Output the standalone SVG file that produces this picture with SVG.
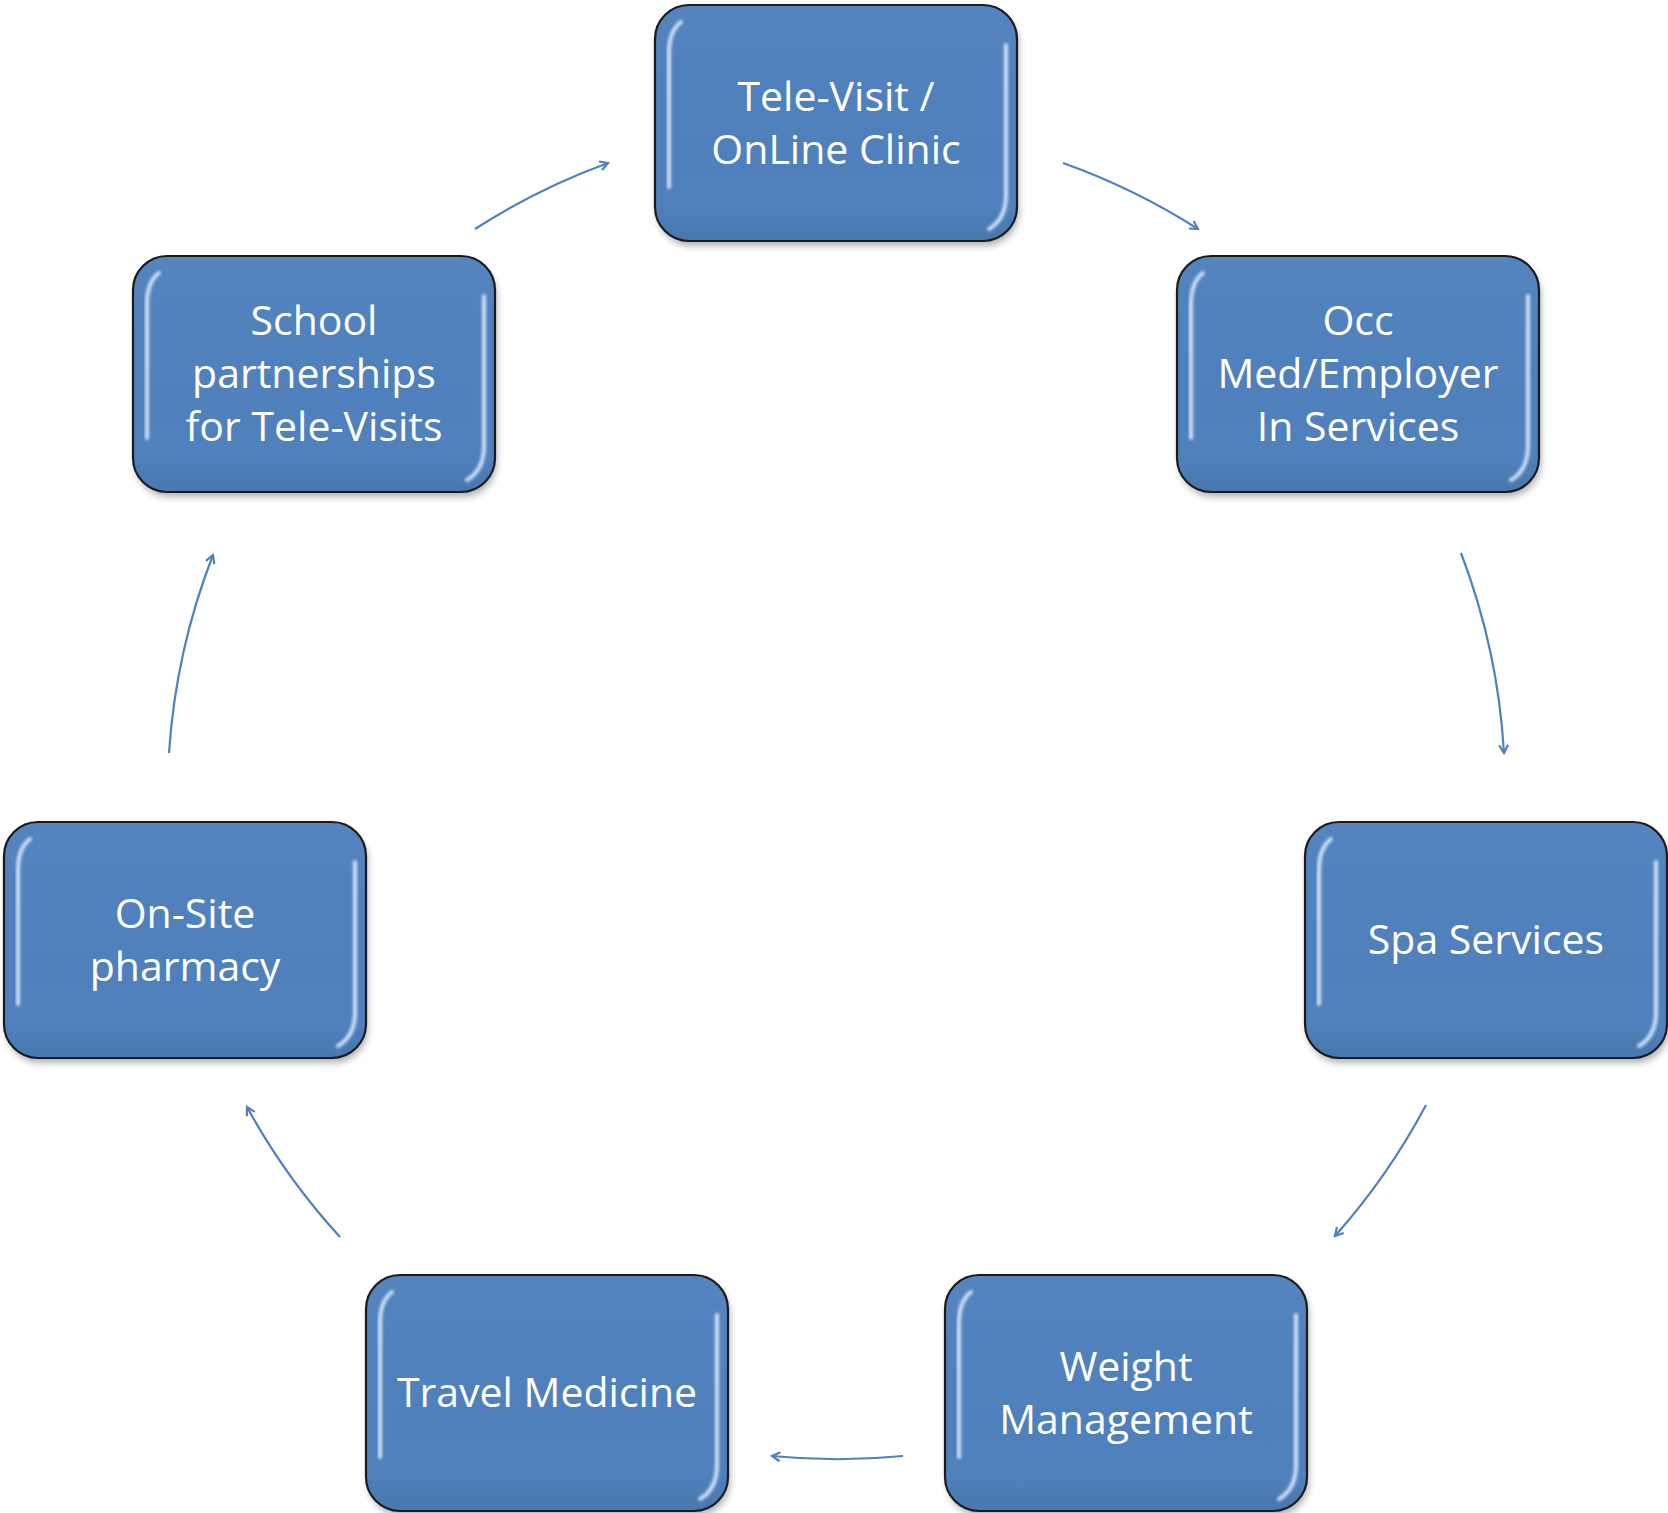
<svg xmlns="http://www.w3.org/2000/svg" width="1668" height="1513" viewBox="0 0 1668 1513">
<defs>
<style>
.box{fill:#4F81BD;stroke:#1b1b1b;stroke-width:2.2}
.shadow{fill:#000;opacity:0.3;filter:url(#blur4)}
.hl{fill:none;stroke:#e8f3ff;stroke-width:4;stroke-linecap:round;filter:url(#blur1);opacity:0.85}
.shade{fill:url(#shadeGrad)}
.lbl{font-family:"Open Sans","Liberation Sans",sans-serif;font-size:41px;fill:#ffffff;text-anchor:middle}
.conn{fill:none;stroke:#4F81BD;stroke-width:2.2;marker-end:url(#arr)}
</style>
<filter id="blur4" x="-10%" y="-10%" width="120%" height="130%"><feGaussianBlur stdDeviation="3.5"/></filter>
<filter id="blur1" x="-20%" y="-20%" width="140%" height="140%"><feGaussianBlur stdDeviation="1.6"/></filter>
<linearGradient id="shadeGrad" x1="0" y1="0" x2="0" y2="1">
<stop offset="0" stop-color="#ffffff" stop-opacity="0.03"/>
<stop offset="0.85" stop-color="#000000" stop-opacity="0"/>
<stop offset="1" stop-color="#000000" stop-opacity="0.08"/>
</linearGradient>
<marker id="arr" viewBox="-10 -6 12 12" refX="0" refY="0" markerWidth="12" markerHeight="12" markerUnits="userSpaceOnUse" orient="auto">
<path d="M-8,-4.5 L0,0 L-8,4.5" fill="none" stroke="#4F81BD" stroke-width="2.2" stroke-linejoin="miter"/>
</marker>
<g id="boxshape">
<rect class="shadow" x="2" y="5" width="362" height="236" rx="34"/>
<rect class="box" x="0" y="0" width="362" height="236" rx="34"/>
<rect class="shade" x="1" y="1" width="360" height="234" rx="33"/>
<path class="hl" d="M14,182 L14,48 Q14,26 26,17"/>
<path class="hl" d="M351,40 L351,190 Q351,214 334,224"/>
</g>
</defs>
<rect width="1668" height="1513" fill="#ffffff"/>

<g id="connectors">
<path class="conn" d="M1063,163 A668,668 0 0 1 1198,229"/>
<path class="conn" d="M1461,553 A668,668 0 0 1 1504,753"/>
<path class="conn" d="M1426,1105 A668,668 0 0 1 1335,1236"/>
<path class="conn" d="M903,1456 A668,668 0 0 1 772,1456"/>
<path class="conn" d="M340,1237 A668,668 0 0 1 247,1107"/>
<path class="conn" d="M169,753 A668,668 0 0 1 213,555"/>
<path class="conn" d="M475,229 A668,668 0 0 1 608,163"/>
</g>

<g id="node-televisit" transform="translate(655,5)">
<use href="#boxshape"/>
<text class="lbl" x="181" y="105.5">Tele-Visit /</text>
<text class="lbl" x="181" y="158.5">OnLine Clinic</text>
</g>

<g id="node-occmed" transform="translate(1177,256)">
<use href="#boxshape"/>
<text class="lbl" x="181" y="79">Occ</text>
<text class="lbl" x="181" y="132">Med/Employer</text>
<text class="lbl" x="181" y="185">In Services</text>
</g>

<g id="node-spa" transform="translate(1305,822)">
<use href="#boxshape"/>
<text class="lbl" x="181" y="132">Spa Services</text>
</g>

<g id="node-weight" transform="translate(945,1275)">
<use href="#boxshape"/>
<text class="lbl" x="181" y="105.5">Weight</text>
<text class="lbl" x="181" y="158.5">Management</text>
</g>

<g id="node-travel" transform="translate(366,1275)">
<use href="#boxshape"/>
<text class="lbl" x="181" y="132">Travel Medicine</text>
</g>

<g id="node-onsite" transform="translate(4,822)">
<use href="#boxshape"/>
<text class="lbl" x="181" y="105.5">On-Site</text>
<text class="lbl" x="181" y="158.5">pharmacy</text>
</g>

<g id="node-school" transform="translate(133,256)">
<use href="#boxshape"/>
<text class="lbl" x="181" y="79">School</text>
<text class="lbl" x="181" y="132">partnerships</text>
<text class="lbl" x="181" y="185">for Tele-Visits</text>
</g>
</svg>
